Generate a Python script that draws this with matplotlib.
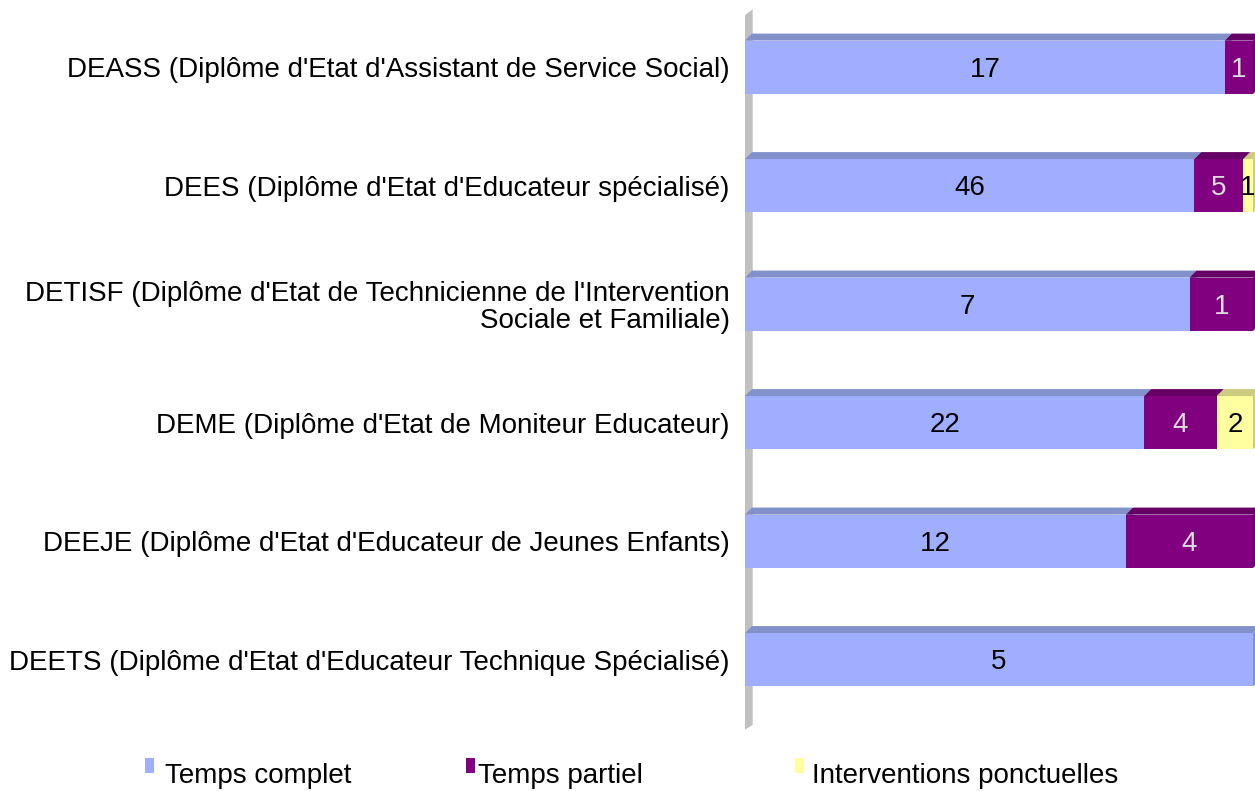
import matplotlib.pyplot as plt
from matplotlib.patches import Polygon
import numpy as np

plt.rcParams['font.family'] = ['Liberation Sans', 'DejaVu Sans']

diplomes = [
    "DEASS (Diplôme d'Etat d'Assistant de Service Social)",
    "DEES (Diplôme d'Etat d'Educateur spécialisé)",
    "DETISF (Diplôme d'Etat de Technicienne de l'Intervention\nSociale et Familiale)",
    "DEME (Diplôme d'Etat de Moniteur Educateur)",
    "DEEJE (Diplôme d'Etat d'Educateur de Jeunes Enfants)",
    "DEETS (Diplôme d'Etat d'Educateur Technique Spécialisé)",
]
temps_complet = [17, 46, 7, 22, 12, 5]
temps_partiel = [1, 5, 1, 4, 4, 0]
interventions = [0, 1, 0, 2, 0, 0]

series = ["Temps complet", "Temps partiel", "Interventions ponctuelles"]
front = ["#A0AEFF", "#800080", "#FFFFA0"]
top = ["#8290CC", "#660066", "#CCCC80"]
txt_col = ["black", "#DDDDDD", "black"]

W, H = 1255, 791
fig = plt.figure(figsize=(W / 100, H / 100), dpi=100)
ax = fig.add_axes([745 / W, 1 - 719 / H, 508 / W, 711 / H])

data = np.array([temps_complet, temps_partiel, interventions], dtype=float)
share = data / data.sum(axis=0)
y = np.arange(len(diplomes))
h = 0.45
dx = 7 / 508
dy = 7 / 118.5

# back wall
ax.add_patch(Polygon([(0, 5.59), (0, -0.44), (dx * 1.1, -0.49), (dx * 1.1, 5.55)],
                     closed=True, fc="#C0C0C0", ec="none", zorder=1, clip_on=False))

left = np.zeros(len(diplomes))
for k in range(3):
    vals = share[k]
    ax.barh(y, vals, left=left, height=h, color=front[k], edgecolor="none",
            zorder=3 + k, clip_on=False)
    for i in range(len(diplomes)):
        if vals[i] == 0:
            continue
        l, r = left[i], left[i] + vals[i]
        t, b = y[i] - h / 2, y[i] + h / 2
        # top and side faces for the 3d look
        ax.add_patch(Polygon([(l, t), (l + dx, t - dy), (r + dx, t - dy), (r, t)],
                             closed=True, fc=top[k], ec="none", zorder=3 + k, clip_on=False))
        ax.add_patch(Polygon([(r, t), (r + dx, t - dy), (r + dx, b - dy), (r, b)],
                             closed=True, fc=top[k], ec="none", zorder=2.9 + k, clip_on=False))
        ax.text((l + r) / 2, y[i] + 0.02, f"{int(data[k, i])}", ha="center", va="center",
                fontsize=20, color=txt_col[k], zorder=10)
    left += vals

ax.set_xlim(0, 1)
ax.set_ylim(5.5, -0.5)
ax.set_yticks(y)
ax.set_yticklabels(diplomes, fontsize=20, ha="right", multialignment="right",
                   linespacing=1.05)
ax.tick_params(axis="y", length=0, pad=11)
ax.set_xticks([])
for s in ax.spines.values():
    s.set_visible(False)

# legend drawn in figure pixels
leg_x = [(145, 165), (466, 478), (795, 812)]
for k, (sx, tx) in enumerate(leg_x):
    fig.patches.append(plt.Rectangle((sx / W, 1 - 773 / H), 9 / W, 15 / H,
                                     transform=fig.transFigure, fc=front[k], ec="none"))
    fig.text(tx / W, 1 - 783 / H, series[k], fontsize=20, ha="left", va="baseline")

fig.savefig("out.png", dpi=100)
